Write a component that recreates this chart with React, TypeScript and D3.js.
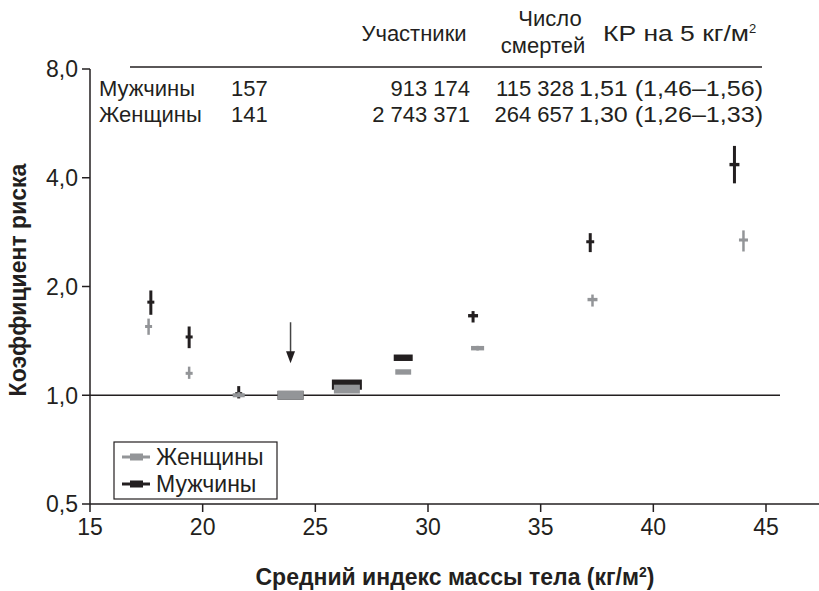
import * as d3 from "d3";

// BMI groups (mean BMI per group) and hazard ratios
const menBmi = [17.7, 19.4, 21.6, 23.9, 26.4, 28.9, 32.0, 37.2, 43.6];
const menHr = [1.81, 1.45, 1.01, 1.0, 1.07, 1.27, 1.66, 2.66, 4.35];
const menLo = [1.67, 1.35, 0.98, 1.0, 1.06, 1.26, 1.59, 2.49, 3.86];
const menHi = [1.95, 1.55, 1.06, 1.0, 1.09, 1.29, 1.71, 2.81, 4.9];
const menWeight = [5, 5, 5, 75, 100, 40, 11, 7, 11];

const womenBmi = [17.6, 19.4, 21.6, 23.9, 26.4, 28.9, 32.2, 37.3, 44.0];
const womenHr = [1.55, 1.15, 1.0, 1.0, 1.04, 1.16, 1.35, 1.84, 2.69];
const womenLo = [1.47, 1.11, 0.99, 1.0, 1.03, 1.15, 1.33, 1.76, 2.5];
const womenHi = [1.63, 1.2, 1.02, 1.0, 1.05, 1.17, 1.37, 1.9, 2.86];
const womenWeight = [4, 4, 16, 75, 75, 28, 19, 11, 9];

const referenceBmi = 23.9;

const xTicks = [15, 20, 25, 30, 35, 40, 45];
const yTicks = [0.5, 1, 2, 4, 8];

// table above the plot
const tableRows = [
  { label: "Мужчины", studies: "157", people: "913 174", deaths: "115 328", hr: "1,51 (1,46–1,56)" },
  { label: "Женщины", studies: "141", people: "2 743 371", deaths: "264 657", hr: "1,30 (1,26–1,33)" },
];

const legendItems = [
  { label: "Женщины", color: "#939598" },
  { label: "Мужчины", color: "#231f20" },
];

const W = 819;
const H = 591;
const FONT = "'Liberation Sans', Arial, Helvetica, sans-serif";
const INK = "#231f20";

const toSeries = (bmi, hr, lo, hi, weight) =>
  bmi.map((b, i) => ({ bmi: b, hr: hr[i], lo: lo[i], hi: hi[i], weight: weight[i] }));

const men = toSeries(menBmi, menHr, menLo, menHi, menWeight);
const women = toSeries(womenBmi, womenHr, womenLo, womenHi, womenWeight);

export default function App() {
  const xScale = d3.scaleLinear().domain([15, 45]).range([90, 766]);
  const yScale = d3.scaleLog().domain([0.5, 8]).range([504, 69]);
  const maxWeight = d3.max([...menWeight, ...womenWeight]);
  const sizeScale = d3.scaleSqrt().domain([0, maxWeight]).range([0, 30]);

  const fmt = (v) => d3.format(".1f")(v).replace(".", ",");

  const drawSeries = (series, color, lineW) =>
    series.map((d, i) => {
      const w = Math.max(7, sizeScale(d.weight));
      const h = Math.max(3, w * 0.34);
      const cx = xScale(d.bmi);
      const cy = yScale(d.hr);
      return (
        <g key={i}>
          {d.hi > d.lo && (
            <line
              x1={cx}
              x2={cx}
              y1={yScale(d.hi)}
              y2={yScale(d.lo)}
              stroke={color}
              strokeWidth={lineW}
            />
          )}
          <rect x={cx - w / 2} y={cy - h / 2} width={w} height={h} fill={color} />
        </g>
      );
    });

  const arrowX = xScale(referenceBmi);
  const arrowTop = yScale(1) - 73;
  const arrowTip = yScale(1) - 32;

  return (
    <div style={{ position: "fixed", left: 0, top: 0 }}>
      <svg width={W} height={H} style={{ fontFamily: FONT, display: "block" }}>
        <rect width={W} height={H} fill="#fff" />

        {/* table header */}
        <g fontSize={22} fill={INK}>
          <text x={414} y={41} textAnchor="middle">Участники</text>
          <text x={550} y={26} textAnchor="middle">Число</text>
          <text x={543} y={53} textAnchor="middle">смертей</text>
          <text x={603} y={41}>
            <tspan textLength={146} lengthAdjust="spacingAndGlyphs">КР на 5 кг/м</tspan>
            <tspan fontSize={13} dy={-8}>2</tspan>
          </text>
          <line x1={130} x2={762} y1={67} y2={67} stroke={INK} strokeWidth={1.3} />
          {tableRows.map((r, i) => (
            <g key={r.label} transform={`translate(0,${96 + i * 26})`}>
              <text x={99}>{r.label}</text>
              <text x={231}>{r.studies}</text>
              <text x={470} textAnchor="end">{r.people}</text>
              <text x={574} textAnchor="end">{r.deaths}</text>
              <text x={579} textLength={184} lengthAdjust="spacingAndGlyphs">{r.hr}</text>
            </g>
          ))}
        </g>

        {/* reference line at HR = 1 */}
        <line x1={90} x2={780} y1={yScale(1)} y2={yScale(1)} stroke={INK} strokeWidth={1.5} />

        {/* axes */}
        <line x1={90} x2={90} y1={yScale(8)} y2={yScale(0.5)} stroke={INK} strokeWidth={1.5} />
        <line x1={90} x2={W} y1={504} y2={504} stroke={INK} strokeWidth={1.5} />
        {yTicks.map((t) => (
          <g key={t} transform={`translate(0,${yScale(t)})`}>
            <line x1={82} x2={90} stroke={INK} strokeWidth={1.5} />
            <text x={78} dy="0.36em" textAnchor="end" fontSize={23} fill={INK}>
              {fmt(t)}
            </text>
          </g>
        ))}
        {xTicks.map((t) => (
          <g key={t} transform={`translate(${xScale(t)},504)`}>
            <line y2={8} stroke={INK} strokeWidth={1.5} />
            <text y={31} textAnchor="middle" fontSize={23} fill={INK}>
              {t}
            </text>
          </g>
        ))}

        {/* axis titles */}
        <text x={455} y={585} textAnchor="middle" fontSize={23} fontWeight="bold" fill={INK}>
          Средний индекс массы тела (кг/м
          <tspan fontSize={14} dy={-8}>2</tspan>
          <tspan dy={8}>)</tspan>
        </text>
        <text
          transform="translate(26,280) rotate(-90)"
          textAnchor="middle"
          fontSize={23}
          fontWeight="bold"
          fill={INK}
        >
          Коэффициент риска
        </text>

        {/* markers */}
        {drawSeries(men, INK, 3)}
        {drawSeries(women, "#939598", 2.5)}

        {/* arrow to reference group */}
        <line x1={arrowX} x2={arrowX} y1={arrowTop} y2={arrowTip - 10} stroke="#444" strokeWidth={1.5} />
        <path
          d={`M${arrowX - 4.5},${arrowTip - 12} L${arrowX + 4.5},${arrowTip - 12} L${arrowX},${arrowTip} Z`}
          fill={INK}
        />

        {/* legend */}
        <g>
          <rect x={114} y={442} width={163} height={57} fill="#fff" stroke={INK} strokeWidth={1.2} />
          {legendItems.map((item, i) => (
            <g key={item.label} transform={`translate(0,${457 + i * 27})`}>
              <line x1={122} x2={150} stroke={item.color} strokeWidth={3} />
              <rect x={130} y={-3.5} width={13} height={7} fill={item.color} />
              <text x={156} dy="0.36em" fontSize={23} fill={INK}>
                {item.label}
              </text>
            </g>
          ))}
        </g>
      </svg>
    </div>
  );
}
